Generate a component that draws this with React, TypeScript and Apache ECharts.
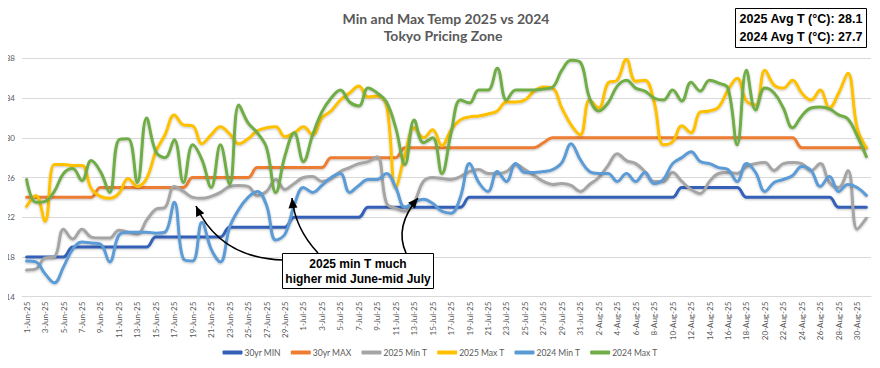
import React, { useEffect, useRef } from "react";
import * as echarts from "echarts";

// ---- categories (1-Jun-25 .. 31-Aug-25) ----
const monthDays: [string, number][] = [["Jun", 30], ["Jul", 31], ["Aug", 31]];
const categories: string[] = [];
for (const [m, n] of monthDays) for (let d = 1; d <= n; d++) categories.push(`${d}-${m}-25`);

const yMin = 14;
const yMax = 38;
const yInterval = 4;

const seriesNames = ["30yr MIN", "30yr MAX", "2025 Min T", "2025 Max T", "2024 Min T", "2024 Max T"];
const seriesColors = ["#3460B8", "#ED7D31", "#A5A5A5", "#FFC000", "#5B9BD5", "#70AD47"];

const min30yr = [
  18, 18, 18, 18, 18,
  19, 19, 19, 19, 19, 19, 19, 19, 19,
  20, 20, 20, 20, 20, 20, 20, 20,
  21, 21, 21, 21, 21, 21, 21,
  22, 22, 22, 22, 22, 22, 22, 22,
  23, 23, 23, 23, 23, 23, 23, 23, 23, 23, 23,
  24, 24, 24, 24, 24, 24, 24, 24, 24, 24, 24, 24, 24, 24, 24, 24, 24, 24, 24, 24, 24, 24, 24,
  25, 25, 25, 25, 25, 25, 25,
  24, 24, 24, 24, 24, 24, 24, 24, 24, 24,
  23, 23, 23, 23,
];

const max30yr = [
  24, 24, 24, 24, 24, 24, 24, 24,
  25, 25, 25, 25, 25, 25, 25, 25, 25, 25,
  26, 26, 26, 26, 26, 26, 26,
  27, 27, 27, 27, 27, 27, 27, 27,
  28, 28, 28, 28, 28, 28, 28, 28,
  29, 29, 29, 29, 29, 29, 29, 29, 29, 29, 29, 29, 29, 29, 29,
  29.5,
  30, 30, 30, 30, 30, 30, 30, 30, 30, 30, 30, 30, 30, 30, 30, 30, 30, 30, 30, 30, 30, 30, 30, 30, 30, 30, 30,
  29, 29, 29, 29, 29, 29, 29, 29,
];

const min2025 = [
  16.7, 16.8, 17.9, 18.0, 20.8, 19.8, 20.8, 20.0, 19.9, 19.9,
  20.7, 20.5, 20.3, 21.7, 22.8, 23.0, 25.1, 24.6, 24.0, 23.9,
  24.1, 24.5, 25.1, 25.2, 25.1, 24.2, 24.6, 25.8, 24.8, 25.4,
  26.0, 26.1, 25.6, 25.9, 26.6, 27.0, 27.4, 27.6, 28.1, 23.4,
  22.9, 22.6, 23.5, 25.6, 26.0, 25.9, 25.8, 26.1, 26.6, 26.8,
  26.4, 26.4, 26.6, 27.3, 26.8, 26.2, 25.6, 25.3, 25.4, 25.2,
  24.6, 25.3, 26.0, 27.2, 28.4, 27.7, 27.4, 26.6, 25.6, 25.6,
  26.5, 25.6, 24.8, 24.4, 25.6, 26.4, 26.5, 26.4, 27.1, 27.4,
  27.5, 26.7, 27.4, 27.5, 27.4, 26.7, 27.4, 25.5, 25.0, 26.7,
  20.8, 21.9,
];

const max2025 = [
  23.1, 24.2, 21.6, 27.3, 27.3, 27.2, 27.2, 24.9, 24.1, 23.9,
  24.4, 25.9, 25.1, 25.9, 28.6, 30.3, 32.3, 31.3, 31.2, 29.4,
  30.3, 31.1, 30.4, 29.4, 29.9, 30.7, 31.0, 31.1, 30.1, 30.5,
  31.1, 30.3, 32.0, 32.7, 33.8, 34.5, 35.2, 34.1, 34.2, 33.3,
  25.0, 28.3, 31.0, 30.0, 30.8, 29.2, 30.8, 31.8, 32.1, 32.2,
  32.4, 32.7, 33.6, 33.6, 33.8, 34.7, 35.1, 35.0, 33.0, 31.3,
  30.3, 33.8, 33.0, 35.5, 35.8, 37.9, 35.7, 35.8, 33.6, 29.3,
  29.6, 31.2, 30.5, 32.6, 32.7, 33.1, 34.8, 36.0, 33.7, 33.3,
  36.8, 35.3, 35.0, 35.8, 34.5, 33.8, 34.8, 33.0, 34.5, 36.5,
  31.0, 29.0,
];

const min2024 = [
  17.6, 17.5, 16.3, 15.4, 17.0, 18.8, 19.5, 19.4, 19.3, 17.5,
  20.2, 20.5, 20.5, 20.5, 20.4, 20.5, 23.5, 17.8, 17.6, 21.5,
  18.8, 17.5, 21.0, 22.8, 24.0, 24.6, 23.2, 19.7, 20.3, 23.2,
  25.0, 24.5, 25.2, 26.0, 26.4, 24.5, 25.2, 25.8, 25.8, 26.4,
  25.0, 23.0, 23.5, 23.8, 23.4, 22.6, 22.4, 24.0, 27.4, 25.5,
  24.6, 26.6, 25.6, 27.4, 26.5, 26.5, 26.6, 26.8, 27.5, 29.4,
  27.8, 26.6, 26.4, 26.4, 25.6, 26.4, 25.6, 26.5, 25.4, 25.8,
  27.4, 28.0, 28.6, 27.6, 27.4, 27.0, 26.8, 25.6, 27.4, 26.5,
  24.6, 25.5, 25.8, 26.2, 27.1, 26.7, 25.1, 26.1, 24.6, 25.3,
  25.0, 24.2,
];

const max2024 = [
  25.8, 23.5, 23.6, 24.6, 26.4, 26.9, 25.7, 27.7, 26.6, 24.5,
  29.8, 29.9, 25.5, 32.0, 28.6, 28.0, 29.8, 25.5, 29.3, 27.8,
  25.0, 29.3, 25.3, 33.3, 31.5, 30.5, 29.0, 24.5, 28.2, 30.5,
  27.6, 30.3, 32.6, 34.0, 34.8, 33.6, 33.2, 35.0, 34.5, 33.6,
  31.0, 27.3, 31.8, 29.5, 30.0, 26.4, 30.5, 33.8, 33.5, 34.8,
  34.8, 37.0, 33.8, 34.8, 34.8, 34.8, 34.9, 35.1, 36.8, 37.8,
  37.6, 34.0, 32.7, 33.5, 35.2, 35.8, 35.0, 34.7, 34.0, 33.8,
  34.8, 33.7, 35.6, 34.7, 35.8, 35.5, 35.0, 29.3, 36.8, 32.8,
  35.0, 34.5, 33.0, 31.0, 32.2, 33.0, 33.1, 32.9, 32.3, 31.9,
  30.2, 28.1,
];

const seriesData = [min30yr, max30yr, min2025, max2025, min2024, max2024];

const titleLines = ["Min and Max Temp 2025 vs 2024", "Tokyo Pricing Zone"];
const avgLines = ["2025 Avg T (°C): 28.1", "2024 Avg T (°C): 27.7"];
const noteLines = ["2025 min T much", "higher mid June-mid July"];

function arrowHead(tip: [number, number], from: [number, number], len = 10, half = 4.5) {
  const dx = tip[0] - from[0];
  const dy = tip[1] - from[1];
  const d = Math.hypot(dx, dy) || 1;
  const ux = dx / d, uy = dy / d;
  const bx = tip[0] - ux * len, by = tip[1] - uy * len;
  return [
    [tip[0], tip[1]],
    [bx - uy * half, by + ux * half],
    [bx + uy * half, by - ux * half],
  ];
}

function arrow(p0: [number, number], cp: [number, number], p2: [number, number]) {
  return [
    {
      type: "bezierCurve",
      shape: { x1: p0[0], y1: p0[1], cpx1: cp[0], cpy1: cp[1], x2: p2[0], y2: p2[1] },
      style: { stroke: "#000", lineWidth: 1.6, fill: null },
      z: 100,
    },
    {
      type: "polygon",
      shape: { points: arrowHead(p2, cp) },
      style: { fill: "#000" },
      z: 100,
    },
  ];
}

export default function App() {
  const ref = useRef<HTMLDivElement>(null);
  useEffect(() => {
    if (!ref.current) return;
    const chart = echarts.init(ref.current, undefined, { renderer: "svg" });
    const font = "Lato, 'Open Sans', sans-serif";
    const boxFont = "bold 12.5px 'Liberation Sans Narrow', 'Liberation Sans', sans-serif";
    chart.setOption({
      animation: false,
      backgroundColor: "#fff",
      grid: { left: 22, right: 9, top: 58.3, bottom: 71.3, containLabel: false },
      legend: {
        bottom: 6,
        left: "center",
        itemWidth: 20,
        itemHeight: 4,
        itemGap: 10,
        icon: "roundRect",
        textStyle: { color: "#595959", fontSize: 8.5, fontFamily: font, padding: [0, 0, 0, -3] },
        data: seriesNames,
      },
      xAxis: {
        type: "category",
        data: categories,
        boundaryGap: true,
        axisLine: { lineStyle: { color: "#d9d9d9" } },
        axisTick: { interval: 1, length: 4, lineStyle: { color: "#d9d9d9" } },
        axisLabel: {
          interval: 1,
          rotate: 90,
          color: "#595959",
          fontSize: 8,
          fontFamily: font,
          margin: 5,
        },
      },
      yAxis: {
        type: "value",
        min: yMin,
        max: yMax,
        interval: yInterval,
        axisLine: { show: false },
        axisTick: { show: false },
        splitLine: { lineStyle: { color: "#d9d9d9", width: 1 } },
        axisLabel: { color: "#595959", fontSize: 8, fontFamily: font, margin: 7 },
      },
      series: seriesNames.map((name, k) => ({
        name,
        type: "line",
        data: seriesData[k],
        smooth: 0.4,
        symbol: "none",
        color: seriesColors[k],
        lineStyle: {
          width: 3,
          color: seriesColors[k],
          cap: "round",
          join: "round",
          shadowColor: "rgba(0,0,0,0.25)",
          shadowBlur: 2,
          shadowOffsetY: 1,
        },
        z: 2 + k,
      })),
      graphic: [
        {
          type: "text",
          x: 446,
          y: 18,
          style: {
            text: titleLines[0],
            align: "center",
            verticalAlign: "middle",
            fill: "#595959",
            font: `bold 14px ${font}`,
          },
        },
        {
          type: "text",
          x: 443,
          y: 35,
          style: {
            text: titleLines[1],
            align: "center",
            verticalAlign: "middle",
            fill: "#595959",
            font: `bold 14px ${font}`,
          },
        },
        {
          type: "rect",
          shape: { x: 735.5, y: 8.5, width: 131, height: 39 },
          style: { fill: "#fff", stroke: "#000", lineWidth: 1 },
          z: 100,
        },
        {
          type: "text",
          x: 801,
          y: 19,
          z: 101,
          style: { text: avgLines[0], align: "center", verticalAlign: "middle", fill: "#000", font: boxFont },
        },
        {
          type: "text",
          x: 801,
          y: 37,
          z: 101,
          style: { text: avgLines[1], align: "center", verticalAlign: "middle", fill: "#000", font: boxFont },
        },
        ...arrow([283, 260], [220, 258], [196, 206]),
        ...arrow([318, 253], [295, 228.5], [292, 198]),
        ...arrow([406, 253], [394, 226.5], [418, 198]),
        {
          type: "rect",
          shape: { x: 282.5, y: 253.5, width: 151, height: 35 },
          style: { fill: "#fff", stroke: "#000", lineWidth: 1 },
          z: 102,
        },
        {
          type: "text",
          x: 358,
          y: 264,
          z: 103,
          style: {
            text: noteLines[0],
            align: "center",
            verticalAlign: "middle",
            fill: "#000",
            font: "bold 12px 'Liberation Sans', Arial, sans-serif",
          },
        },
        {
          type: "text",
          x: 358,
          y: 279,
          z: 103,
          style: {
            text: noteLines[1],
            align: "center",
            verticalAlign: "middle",
            fill: "#000",
            font: "bold 12px 'Liberation Sans', Arial, sans-serif",
          },
        },
      ],
    });
    return () => chart.dispose();
  }, []);
  return <div ref={ref} style={{ width: 880, height: 368, margin: -8 }} />;
}
